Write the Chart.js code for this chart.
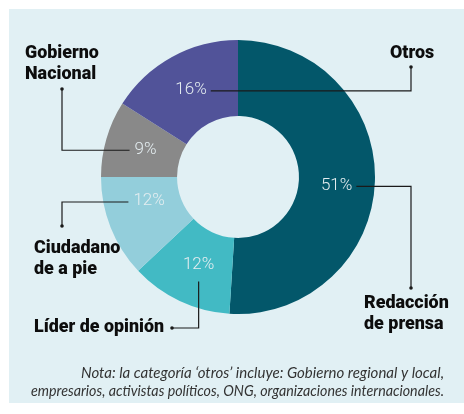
<!DOCTYPE html>
<html lang="es">
<head>
<meta charset="utf-8">
<script src="https://cdn.jsdelivr.net/npm/chart.js@4.4.1/dist/chart.umd.min.js"></script>
<style>
  html, body { margin: 0; padding: 0; background: #fff; }
  #wrap { position: relative; width: 464px; height: 414px; }
  #panel { position: absolute; left: 9px; top: 9px; width: 455px; height: 394px; background: #e1f0f4; }
  canvas { position: absolute; left: 0; top: 0; }
</style>
</head>
<body>
<div id="wrap">
  <div id="panel"></div>
  <canvas id="chart" width="464" height="414"></canvas>
</div>
<script>
// Datos (en sentido horario desde las 12)
const categorias  = ['Redacción de prensa', 'Líder de opinión', 'Ciudadano de a pie', 'Gobierno Nacional', 'Otros'];
const etiquetas   = [['Redacción', 'de prensa'], ['Líder de opinión'], ['Ciudadano', 'de a pie'], ['Gobierno', 'Nacional'], ['Otros']];
const porcentajes = [51, 12, 12, 9, 16];
const colores     = ['#03576a', '#42bac4', '#93cedb', '#898989', '#515399'];
const nota = [
  'Nota: la categoría ‘otros’ incluye: Gobierno regional y local,',
  'empresarios, activistas políticos, ONG, organizaciones internacionales.'
];

// Posición de las llamadas (punto final de la línea y texto)
const llamadas = [
  { dot: [411, 288], modo: 'h', texto: [364, 308], giro: 3,   r: 1.0  },
  { dot: [172, 328], modo: 'v', texto: [34, 332],  giro: -1,  r: 0.97 },
  { dot: [62, 226],  modo: 'h', texto: [34, 253],  giro: 6.5, r: 0.93 },
  { dot: [62, 89],   modo: 'h', texto: [25, 58],   giro: 0.5, r: 0.975 },
  { dot: [411, 67],  modo: 'h', texto: [390, 58],  giro: 0.5, r: 1.0  }
];

function fitText(ctx, text, xLeft, y, width) {
  const w = ctx.measureText(text).width;
  ctx.save();
  ctx.translate(xLeft, y);
  ctx.scale(width / w, 1);
  ctx.textAlign = 'left';
  ctx.fillText(text, 0, 0);
  ctx.restore();
}

const callouts = {
  id: 'callouts',
  afterDraw(chart) {
    const ctx = chart.ctx;
    const arcs = chart.getDatasetMeta(0).data;
    ctx.save();
    arcs.forEach((arc, i) => {
      const c = llamadas[i];
      const mid = (arc.startAngle + arc.endAngle) / 2 + c.giro * Math.PI / 180;
      const rad = (arc.innerRadius + arc.outerRadius) / 2 * c.r;
      const lx = arc.x + Math.cos(mid) * rad;
      const ly = arc.y + Math.sin(mid) * rad;

      // porcentaje
      ctx.font = '300 17px Roboto, "Open Sans", sans-serif';
      ctx.fillStyle = '#e4edf0';
      ctx.textAlign = 'center';
      ctx.textBaseline = 'middle';
      const txt = porcentajes[i] + '%';
      ctx.fillText(txt, lx, ly);
      const tw = ctx.measureText(txt).width;

      // línea guía
      ctx.strokeStyle = '#1a1a1a';
      ctx.lineWidth = 1.2;
      ctx.beginPath();
      if (c.modo === 'h') {
        const sx = c.dot[0] > lx ? lx + tw / 2 + 4 : lx - tw / 2 - 5;
        const sy = ly + 1;
        ctx.moveTo(sx, sy);
        ctx.lineTo(c.dot[0], sy);
        ctx.lineTo(c.dot[0], c.dot[1]);
      } else {
        const sy = ly + 17;
        ctx.moveTo(lx, sy);
        ctx.lineTo(lx, c.dot[1]);
        ctx.lineTo(c.dot[0], c.dot[1]);
      }
      ctx.stroke();
      ctx.fillStyle = '#1a1a1a';
      ctx.beginPath();
      ctx.arc(c.dot[0], c.dot[1], 1.8, 0, Math.PI * 2);
      ctx.fill();

      // nombre de la categoría: trazo grueso, ajustado al ancho de la negrita
      ctx.textAlign = 'left';
      ctx.textBaseline = 'alphabetic';
      etiquetas[i].forEach((line, k) => {
        ctx.font = 'bold 18px Roboto, "Liberation Sans", sans-serif';
        const w = ctx.measureText(line).width;
        ctx.font = '900 19px Roboto, "Liberation Sans", sans-serif';
        ctx.fillStyle = '#0d0d0d';
        fitText(ctx, line, c.texto[0], c.texto[1] + k * 21, w);
      });
    });

    // nota al pie (alineada a la derecha)
    ctx.font = 'italic 15px Lato, "Open Sans", sans-serif';
    ctx.fillStyle = '#333';
    fitText(ctx, nota[0], 444 - 363, 378, 363);
    fitText(ctx, nota[1], 444 - 413, 396, 413);
    ctx.restore();
  }
};

new Chart(document.getElementById('chart'), {
  type: 'doughnut',
  data: {
    labels: categorias,
    datasets: [{ data: porcentajes, backgroundColor: colores, borderWidth: 0 }]
  },
  options: {
    responsive: false,
    animation: false,
    cutout: '44.5%',
    layout: { padding: { left: 101, right: 89, top: 40, bottom: 100 } },
    plugins: { legend: { display: false }, tooltip: { enabled: false } }
  },
  plugins: [callouts]
});
</script>
</body>
</html>
